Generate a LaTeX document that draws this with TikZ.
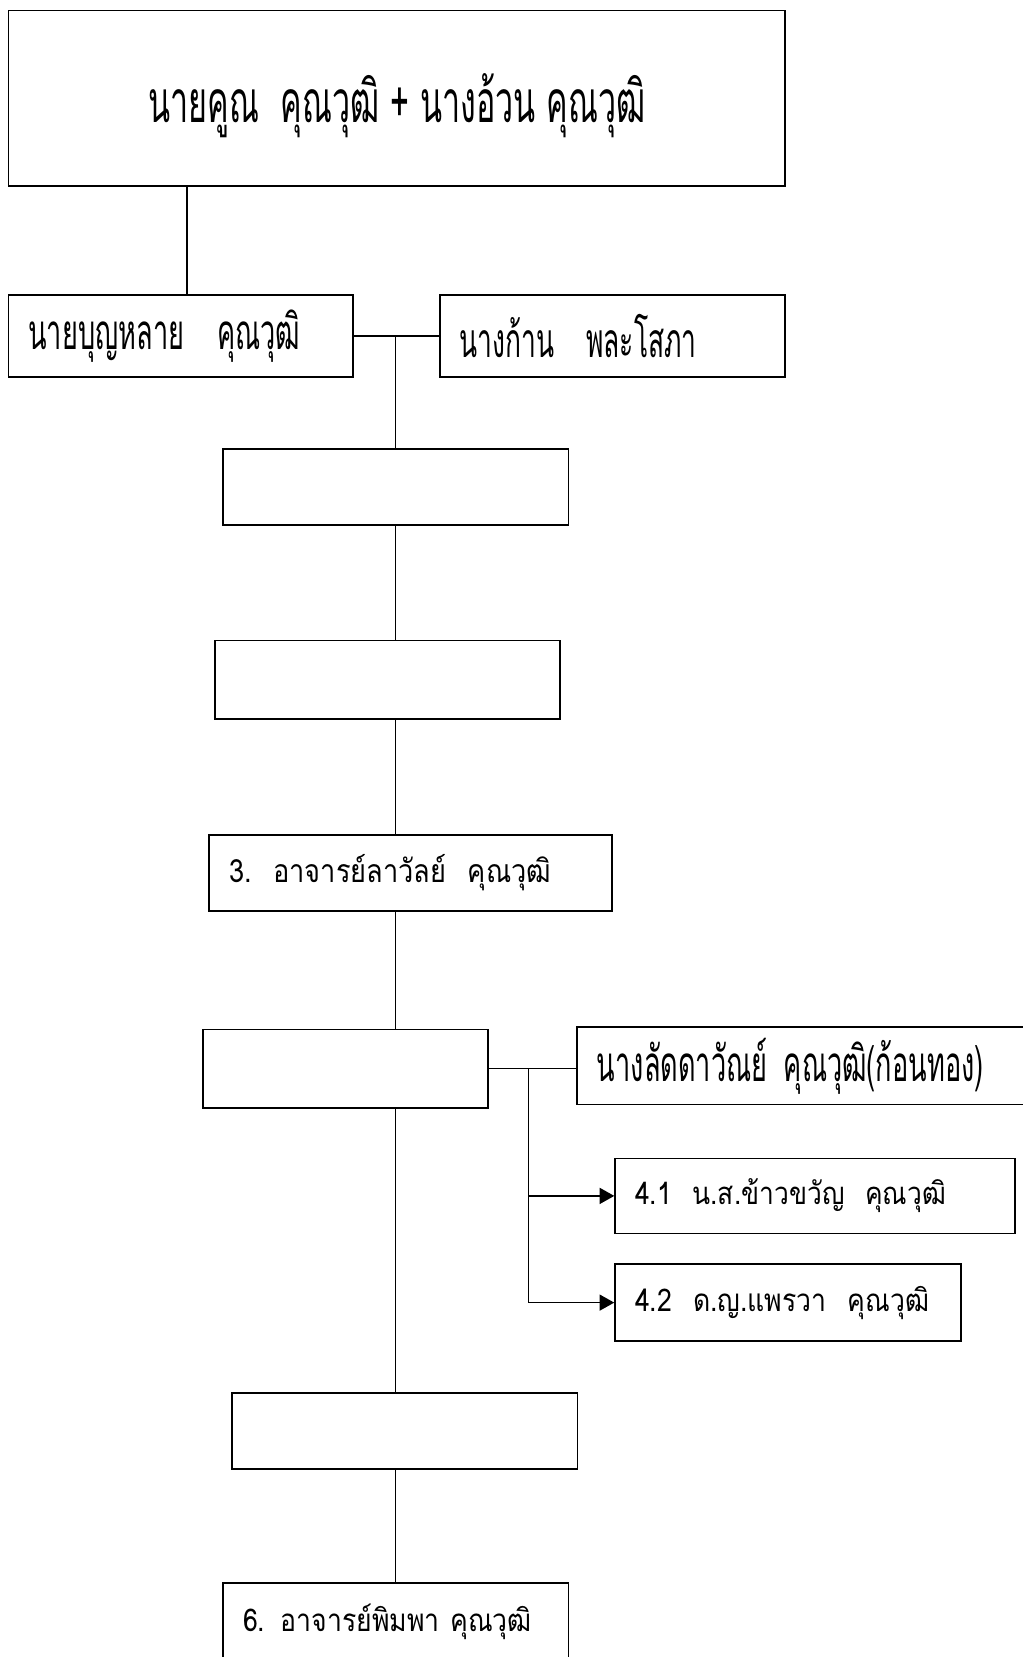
\documentclass[tikz,border=0pt]{standalone}
\usepackage{fontspec}
\newfontfamily\thaifont[Script=Thai,FakeStretch=0.85]{Loma}
\newfontfamily\thainarrow[Script=Thai,FakeStretch=0.55]{Loma}
\usetikzlibrary{arrows.meta,positioning}
\tikzset{
    %Define standard arrow tip
    >={Triangle[length=11pt,width=12pt]},
    %Define style for boxes
    famrect/.style={
           rectangle,
           draw=black, line width=1.3pt,
           minimum height=57pt,
           inner xsep=15pt,
           align=left},
    blankrect/.style={
           rectangle,
           draw=black, line width=1.3pt,
           minimum width=259pt,
           minimum height=57pt},
    toprect/.style={
           rectangle,
           draw=black, line width=1.3pt,
           minimum width=582.6pt,
           minimum height=131.6pt,
           text depth=0pt,
           font=\thainarrow\fontsize{44}{50}\selectfont},
    % Define line style
    link/.style={
           line width=1.2pt}
}

\begin{document}
\begin{tikzpicture}[x=0.75pt,y=-0.75pt]
\useasboundingbox (0,0) rectangle (1022,1657);
 %nodes
\node[toprect] (top) at (396.9,98.3) {นายคูณ\ \ คุณวุฒิ + นางอ้วน คุณวุฒิ};
\node[famrect, text width=228.4pt, minimum height=61.8pt,
      font=\thainarrow\fontsize{37}{44}\selectfont] (bun) at (180.7,336.1) {นายบุญหลาย\ \ คุณวุฒิ};
\node[famrect, text width=229.2pt, minimum height=61.8pt,
      font=\thainarrow\fontsize{36}{44}\selectfont] (kan) at (612.5,336.1) {นางก้าน\ \ พละโสภา};
\node[blankrect] (e1) at (395.8,487.2) {};
\node[blankrect, minimum height=58.6pt] (e2) at (387.3,679.6) {};
\node[famrect, text width=272pt,
      font=\thaifont\fontsize{24}{30}\selectfont] (lawan) at (410.6,873) {3.\ \ อาจารย์ลาวัลย์\ \ คุณวุฒิ};
\node[blankrect, minimum width=214pt, minimum height=58.7pt] (e4) at (345.6,1068.5) {};
\node[famrect, text width=309.8pt, minimum height=57.9pt,
      font=\thainarrow\fontsize{37}{44}\selectfont] (ladda) at (803.5,1065.9) {นางลัดดาวัณย์ คุณวุฒิ(ก้อนทอง)};
\node[famrect, text width=269.6pt, minimum height=56.3pt,
      font=\thaifont\fontsize{23.3}{28}\selectfont] (khao) at (814.9,1195.9) {4.1\ \ น.ส.ข้าวขวัญ\ \ คุณวุฒิ};
\node[famrect, text width=229.2pt, minimum height=57.9pt,
      font=\thaifont\fontsize{23.5}{28}\selectfont] (phrae) at (787.9,1302.6) {4.2\ \ ด.ญ.แพรวา\ \ คุณวุฒิ};
\node[blankrect] (e5) at (404.8,1431) {};
\node[famrect, text width=229.2pt, minimum height=57.6pt,
      font=\thaifont\fontsize{23.5}{28}\selectfont] (phimpha) at (395.8,1621.6) {6. อาจารย์พิมพา คุณวุฒิ};

\coordinate (up) at (187,0);
\coordinate (trunk) at (395.3,0);
\coordinate (twig) at (528.5,0);

 %lines
\draw[link] (top.south -| up) -- (bun.north -| up);
\draw[link] (bun.east) -- (kan.west);
\draw[link] (bun.east -| trunk) -- (e1.north -| trunk);
\draw[link] (e1.south -| trunk) -- (e2.north -| trunk);
\draw[link] (e2.south -| trunk) -- (lawan.north -| trunk);
\draw[link] (lawan.south -| trunk) -- (e4.north -| trunk);
\draw[link] (e4.east) -- (e4.east -| ladda.west);
\draw[link,->] (e4.east -| twig) |- (phrae.west);
\draw[link,->] (khao.west -| twig) -- (khao.west);
\draw[link] (e4.south -| trunk) -- (e5.north -| trunk);
\draw[link] (e5.south -| trunk) -- (phimpha.north -| trunk);
\end{tikzpicture}
\end{document}
